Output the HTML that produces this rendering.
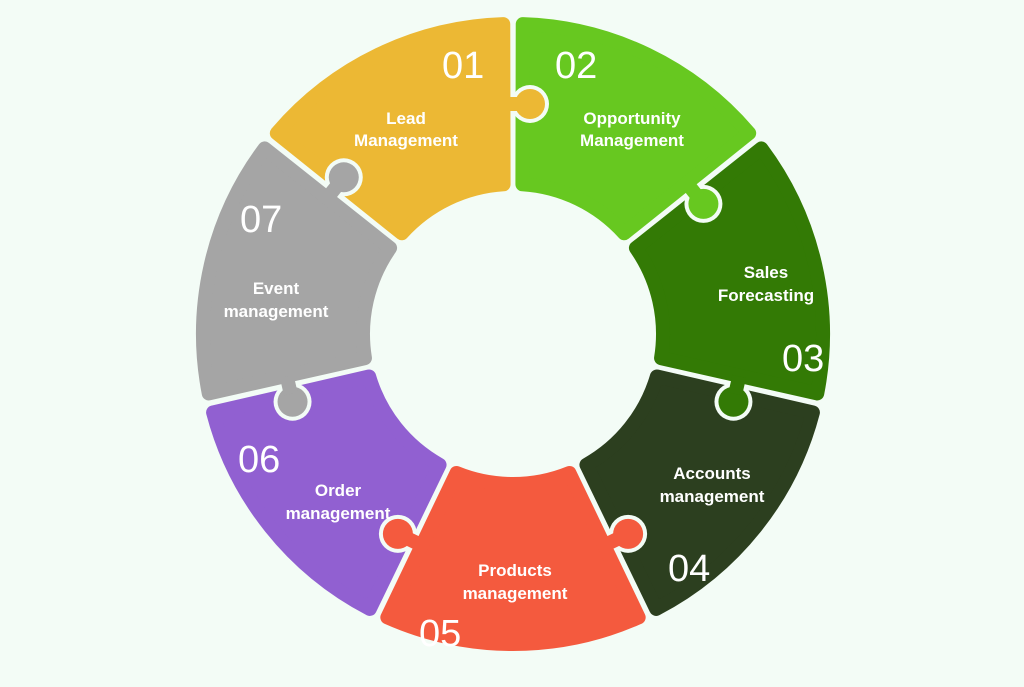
<!DOCTYPE html>
<html><head><meta charset="utf-8"><style>
html,body{margin:0;padding:0;background:#f3fcf6;}
svg{display:block}
.n{font-family:"Liberation Sans",sans-serif;font-size:38px;fill:#fff;font-weight:300}
.l{font-family:"Liberation Sans",sans-serif;font-size:17px;fill:#fff;font-weight:bold;text-anchor:middle}
</style></head><body>
<svg id="s" width="1024" height="687" viewBox="0 0 1024 687">
<g id="segs"></g>
<text class="n" x="442" y="78">01</text>
<text class="n" x="555" y="78">02</text>
<text class="n" x="782" y="371">03</text>
<text class="n" x="668" y="581">04</text>
<text class="n" x="419" y="646">05</text>
<text class="n" x="238" y="472">06</text>
<text class="n" x="240" y="232">07</text>
<text class="l" x="406" y="124">Lead</text>
<text class="l" x="406" y="146">Management</text>
<text class="l" x="632" y="124">Opportunity</text>
<text class="l" x="632" y="146">Management</text>
<text class="l" x="766" y="278">Sales</text>
<text class="l" x="766" y="301">Forecasting</text>
<text class="l" x="712" y="479">Accounts</text>
<text class="l" x="712" y="502">management</text>
<text class="l" x="515" y="576">Products</text>
<text class="l" x="515" y="599">management</text>
<text class="l" x="338" y="496">Order</text>
<text class="l" x="338" y="519">management</text>
<text class="l" x="276" y="294">Event</text>
<text class="l" x="276" y="317">management</text>
</svg>
<script>
var cx=513,cy=334,R=310,r=150,bg="#f3fcf6";
var cols=["#ecb834","#67c820","#337a05","#2c3f1f","#f45a3e","#9160d1","#a5a5a5"];
var g=document.getElementById("segs"),ns="http://www.w3.org/2000/svg";
function P(rad,a){a=a*Math.PI/180;return[cx+rad*Math.sin(a),cy-rad*Math.cos(a)];}
function el(t,at){var e=document.createElementNS(ns,t);for(var k in at)e.setAttribute(k,at[k]);g.appendChild(e);return e;}
var step=360/7;
for(var i=0;i<7;i++){
  var a0=(i-1)*step,a1=i*step;
  var go=1.8,gi=3.6;
  var p1=P(R,a0+go),p2=P(R,a1-go),p3=P(r,a1-gi),p4=P(r,a0+gi);
  var d="M"+p1+" A"+R+" "+R+" 0 0 1 "+p2+" L"+p3+" A"+r+" "+r+" 0 0 0 "+p4+"Z";
  el("path",{d:d,fill:cols[i],stroke:cols[i],"stroke-width":14,"stroke-linejoin":"round"});
}
var tabs=[[0,0,1],[step,1,1],[2*step,2,1],[3*step,4,-1],[4*step,4,1],[5*step,6,-1],[6*step,6,1]];
tabs.forEach(function(t){
  var a=t[0],rad=(R+r)/2,ar=a*Math.PI/180;
  var b=P(rad,a),tx=Math.cos(ar)*t[2],ty=Math.sin(ar)*t[2];
  var c=[b[0]+tx*17,b[1]+ty*17];
  el("circle",{cx:c[0],cy:c[1],r:19,fill:bg});
  el("circle",{cx:c[0],cy:c[1],r:15,fill:cols[t[1]]});
  el("rect",{x:-12,y:-7,width:18,height:14,fill:cols[t[1]],transform:"translate("+(b[0]+tx*3)+","+(b[1]+ty*3)+") rotate("+(a+(t[2]<0?180:0))+")"});
});
</script>
</body></html>
